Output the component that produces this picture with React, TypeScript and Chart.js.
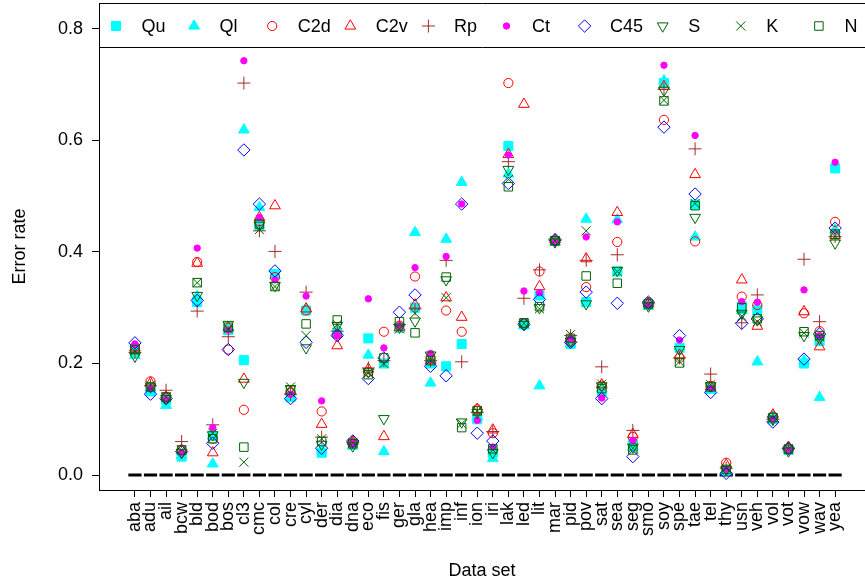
import React, { useEffect, useRef } from 'react';
import { Chart, registerables } from 'chart.js';

Chart.register(...registerables);

const categories = ['aba','adu','ail','bcw','bld','bod','bos','cl3','cmc','col','cre','cyl','der','dia','dna','eco','fis','ger','gla','hea','imp','inf','ion','iri','lak','led','lit','mar','pid','pov','sat','sea','seg','smo','soy','spe','tae','tel','thy','usn','veh','vol','vot','vow','wav','yea'];

const yTicks = [0, 0.2, 0.4, 0.6, 0.8];

const qu = [0.225,0.150,0.135,0.033,0.310,0.070,0.260,0.206,0.447,0.360,0.140,0.295,0.040,0.255,0.055,0.245,0.200,0.265,0.300,0.200,0.195,0.235,0.100,0.040,0.590,0.270,0.322,0.420,0.235,0.310,0.150,0.365,0.055,0.305,0.703,0.228,0.485,0.155,0.008,0.302,0.296,0.100,0.045,0.200,0.240,0.550];
const ql = [0.215,0.155,0.125,0.035,0.320,0.020,0.262,0.619,0.480,0.358,0.140,0.298,0.045,0.258,0.052,0.215,0.042,0.262,0.435,0.165,0.423,0.525,0.105,0.030,0.540,0.268,0.160,0.418,0.235,0.459,0.155,0.458,0.050,0.305,0.707,0.230,0.427,0.152,0.006,0.295,0.203,0.105,0.048,0.205,0.139,0.440];
const c2d = [0.230,0.168,0.140,0.045,0.382,0.065,0.225,0.117,0.455,0.355,0.148,0.295,0.114,0.252,0.058,0.185,0.257,0.268,0.356,0.210,0.295,0.257,0.118,0.075,0.703,0.272,0.365,0.420,0.240,0.337,0.160,0.418,0.068,0.310,0.637,0.210,0.419,0.160,0.022,0.320,0.305,0.105,0.048,0.290,0.258,0.454];
const c2v = [0.228,0.165,0.140,0.045,0.380,0.040,0.265,0.172,0.462,0.483,0.150,0.298,0.091,0.232,0.060,0.190,0.069,0.265,0.305,0.205,0.318,0.283,0.118,0.081,0.575,0.665,0.338,0.422,0.245,0.388,0.162,0.471,0.073,0.308,0.697,0.215,0.539,0.158,0.018,0.350,0.267,0.108,0.050,0.293,0.230,0.430];
const rp = [0.220,0.160,0.152,0.060,0.294,0.090,0.248,0.703,0.438,0.401,0.145,0.328,0.068,0.258,0.058,0.192,0.205,0.270,0.298,0.205,0.385,0.203,0.112,0.078,0.562,0.317,0.368,0.420,0.250,0.385,0.194,0.395,0.080,0.307,0.692,0.210,0.585,0.181,0.012,0.273,0.323,0.100,0.047,0.387,0.275,0.428];
const ct = [0.235,0.155,0.135,0.040,0.407,0.085,0.260,0.743,0.462,0.350,0.145,0.321,0.133,0.250,0.057,0.316,0.228,0.268,0.372,0.218,0.392,0.486,0.098,0.050,0.574,0.330,0.327,0.418,0.245,0.427,0.138,0.454,0.062,0.305,0.735,0.242,0.609,0.155,0.010,0.311,0.310,0.100,0.045,0.332,0.250,0.561];
const c45 = [0.237,0.145,0.137,0.042,0.313,0.057,0.225,0.583,0.486,0.366,0.137,0.238,0.048,0.250,0.061,0.173,0.210,0.292,0.323,0.195,0.178,0.486,0.075,0.061,0.523,0.270,0.315,0.422,0.238,0.328,0.137,0.308,0.033,0.310,0.624,0.250,0.504,0.148,0.003,0.272,0.280,0.095,0.048,0.208,0.253,0.443];
const sS = [0.213,0.158,0.137,0.040,0.322,0.072,0.270,0.166,0.448,0.340,0.155,0.228,0.055,0.268,0.052,0.185,0.101,0.265,0.276,0.215,0.350,0.095,0.112,0.040,0.548,0.270,0.300,0.418,0.240,0.307,0.160,0.367,0.050,0.303,0.690,0.225,0.462,0.160,0.010,0.290,0.278,0.100,0.043,0.250,0.245,0.416];
const kK = [0.222,0.160,0.140,0.045,0.345,0.075,0.262,0.023,0.440,0.338,0.158,0.250,0.065,0.270,0.058,0.183,0.200,0.262,0.290,0.210,0.318,0.092,0.115,0.045,0.530,0.272,0.298,0.420,0.252,0.438,0.163,0.365,0.048,0.305,0.672,0.203,0.487,0.162,0.012,0.285,0.275,0.102,0.047,0.255,0.248,0.428];
const nN = [0.225,0.158,0.140,0.045,0.345,0.065,0.265,0.050,0.450,0.338,0.152,0.271,0.060,0.278,0.056,0.180,0.210,0.275,0.255,0.205,0.355,0.085,0.115,0.047,0.517,0.273,0.302,0.420,0.245,0.357,0.155,0.344,0.045,0.307,0.671,0.201,0.483,0.158,0.010,0.300,0.280,0.103,0.046,0.257,0.250,0.432];
const baseline = [0,0,0,0,0,0,0,0,0,0,0,0,0,0,0,0,0,0,0,0,0,0,0,0,0,0,0,0,0,0,0,0,0,0,0,0,0,0,0,0,0,0,0,0,0,0];

const seriesNames = ['Qu','Ql','C2d','C2v','Rp','Ct','C45','S','K','N'];
const seriesValues = [qu, ql, c2d, c2v, rp, ct, c45, sS, kK, nN];

const CYAN = '#00FFFF', RED = '#FF0000', BROWN = '#A52A2A', MAGENTA = '#FF00FF', BLUE = '#0000FF', GREEN = '#006400';

const styles = [
  { shape: 'rect', r: 6.4, fill: CYAN, stroke: CYAN, rot: 0 },
  { shape: 'triangle', r: 6.2, fill: CYAN, stroke: CYAN, rot: 0 },
  { shape: 'circle', r: 4.6, fill: 'rgba(0,0,0,0)', stroke: RED, rot: 0 },
  { shape: 'triangle', r: 6.2, fill: 'rgba(0,0,0,0)', stroke: RED, rot: 0 },
  { shape: 'cross', r: 6.5, fill: 'rgba(0,0,0,0)', stroke: BROWN, rot: 0 },
  { shape: 'circle', r: 3.2, fill: MAGENTA, stroke: MAGENTA, rot: 0 },
  { shape: 'rectRot', r: 6.2, fill: 'rgba(0,0,0,0)', stroke: BLUE, rot: 0 },
  { shape: 'triangle', r: 6.2, fill: 'rgba(0,0,0,0)', stroke: GREEN, rot: 180 },
  { shape: 'crossRot', r: 6.4, fill: 'rgba(0,0,0,0)', stroke: GREEN, rot: 0 },
  { shape: 'rect', r: 6.0, fill: 'rgba(0,0,0,0)', stroke: GREEN, rot: 0 },
];

const FONT = '"Liberation Sans", Arial, Helvetica, sans-serif';

function drawMarker(ctx: CanvasRenderingContext2D, st: any, x: number, y: number) {
  const r = st.r;
  ctx.save();
  ctx.beginPath();
  ctx.lineWidth = 1;
  ctx.strokeStyle = st.stroke;
  ctx.fillStyle = st.fill;
  switch (st.shape) {
    case 'circle':
      ctx.arc(x, y, r, 0, Math.PI * 2);
      break;
    case 'rect': {
      const s = r * Math.SQRT1_2;
      ctx.rect(x - s, y - s, 2 * s, 2 * s);
      break;
    }
    case 'triangle': {
      let a = (st.rot * Math.PI) / 180;
      ctx.moveTo(x + Math.sin(a) * r, y - Math.cos(a) * r);
      a += (2 * Math.PI) / 3;
      ctx.lineTo(x + Math.sin(a) * r, y - Math.cos(a) * r);
      a += (2 * Math.PI) / 3;
      ctx.lineTo(x + Math.sin(a) * r, y - Math.cos(a) * r);
      ctx.closePath();
      break;
    }
    case 'rectRot':
      ctx.moveTo(x - r, y);
      ctx.lineTo(x, y - r);
      ctx.lineTo(x + r, y);
      ctx.lineTo(x, y + r);
      ctx.closePath();
      break;
    case 'cross':
      ctx.moveTo(x - r, y);
      ctx.lineTo(x + r, y);
      ctx.moveTo(x, y - r);
      ctx.lineTo(x, y + r);
      break;
    case 'crossRot': {
      const d = r * Math.SQRT1_2;
      ctx.moveTo(x - d, y - d);
      ctx.lineTo(x + d, y + d);
      ctx.moveTo(x - d, y + d);
      ctx.lineTo(x + d, y - d);
      break;
    }
  }
  ctx.fill();
  ctx.stroke();
  ctx.restore();
}

const framePlugin = {
  id: 'framePlugin',
  afterDraw(chart: any) {
    const ctx: CanvasRenderingContext2D = chart.ctx;
    const { left, right, top, bottom } = chart.chartArea;
    const legendBottom = 47;
    ctx.save();
    ctx.fillStyle = '#FFFFFF';
    ctx.fillRect(left + 1, top + 1, right - left, legendBottom - top - 1);
    ctx.strokeStyle = '#000000';
    ctx.lineWidth = 1;
    ctx.beginPath();
    ctx.moveTo(left, top + 0.5);
    ctx.lineTo(right + 2, top + 0.5);
    ctx.moveTo(left, legendBottom + 0.5);
    ctx.lineTo(right + 2, legendBottom + 0.5);
    ctx.stroke();
    const rowY = 26;
    const step = 78.1;
    ctx.font = '18px ' + FONT;
    ctx.textBaseline = 'middle';
    ctx.textAlign = 'left';
    seriesNames.forEach((name, i) => {
      const mx = 116 + step * i;
      drawMarker(ctx, styles[i], mx, rowY);
      ctx.fillStyle = '#000000';
      ctx.fillText(name, mx + 25.5, rowY + 1);
    });
    ctx.fillStyle = '#000000';
    ctx.font = '18px ' + FONT;
    ctx.textAlign = 'center';
    ctx.textBaseline = 'middle';
    ctx.fillText('Data set', (left + right) / 2, 571);
    ctx.translate(20, (top + bottom) / 2);
    ctx.rotate(-Math.PI / 2);
    ctx.fillText('Error rate', 0, 0);
    ctx.restore();
  },
};

export default function App() {
  const canvasRef = useRef<HTMLCanvasElement | null>(null);

  useEffect(() => {
    document.body.style.margin = '0';
    const canvas = canvasRef.current;
    if (!canvas) return;

    const datasets: any[] = seriesNames.map((name, i) => ({
      label: name,
      data: seriesValues[i].map((v, j) => ({ x: j, y: v })),
      pointStyle: styles[i].shape,
      pointRadius: styles[i].r,
      pointHoverRadius: styles[i].r,
      pointRotation: styles[i].rot,
      pointBackgroundColor: styles[i].fill,
      pointBorderColor: styles[i].stroke,
      pointBorderWidth: 1,
      showLine: false,
      order: 20 - i,
    }));
    datasets.push({
      label: 'zero',
      data: baseline.map((v, j) => ({ x: j, y: v })),
      pointStyle: 'line',
      pointRadius: 6.6,
      pointHoverRadius: 6.6,
      pointBorderColor: '#000000',
      pointBackgroundColor: '#000000',
      pointBorderWidth: 3,
      showLine: false,
      order: 100,
    });

    const chart = new Chart(canvas, {
      type: 'scatter',
      data: { datasets },
      options: {
        responsive: false,
        animation: false,
        devicePixelRatio: 1,
        layout: { autoPadding: false, padding: { top: 3, left: 0, right: 0, bottom: 0 } },
        plugins: { legend: { display: false }, tooltip: { enabled: false } },
        scales: {
          x: {
            type: 'linear',
            min: -2.31,
            max: 46.92,
            afterFit: (s: any) => { s.height = 95; s.paddingLeft = 0; s.paddingRight = 0; },
            afterBuildTicks: (s: any) => { s.ticks = categories.map((_, i) => ({ value: i })); },
            grid: { display: true, drawOnChartArea: false, drawTicks: true, tickLength: 7, color: '#000000' },
            border: { display: true, color: '#000000', width: 1 },
            ticks: {
              autoSkip: false,
              minRotation: 90,
              maxRotation: 90,
              padding: 5,
              color: '#000000',
              font: { family: FONT, size: 18 },
              callback: (v: any) => categories[Math.round(Number(v))] ?? '',
            },
          },
          y: {
            type: 'linear',
            min: -0.0269,
            max: 0.8466,
            afterFit: (s: any) => { s.width = 99; s.paddingTop = 0; s.paddingBottom = 0; },
            afterBuildTicks: (s: any) => { s.ticks = yTicks.map((v) => ({ value: v })); },
            grid: { display: true, drawOnChartArea: false, drawTicks: true, tickLength: 7, color: '#000000' },
            border: { display: true, color: '#000000', width: 1 },
            ticks: {
              padding: 9,
              color: '#000000',
              font: { family: FONT, size: 18 },
              callback: (v: any) => Number(v).toFixed(1),
            },
          },
        },
      },
      plugins: [framePlugin],
    });

    return () => chart.destroy();
  }, []);

  return (
    <div style={{ position: 'absolute', left: 0, top: 0, width: 865, height: 585, overflow: 'hidden', background: '#fff' }}>
      <canvas ref={canvasRef} width={865} height={585} />
    </div>
  );
}
